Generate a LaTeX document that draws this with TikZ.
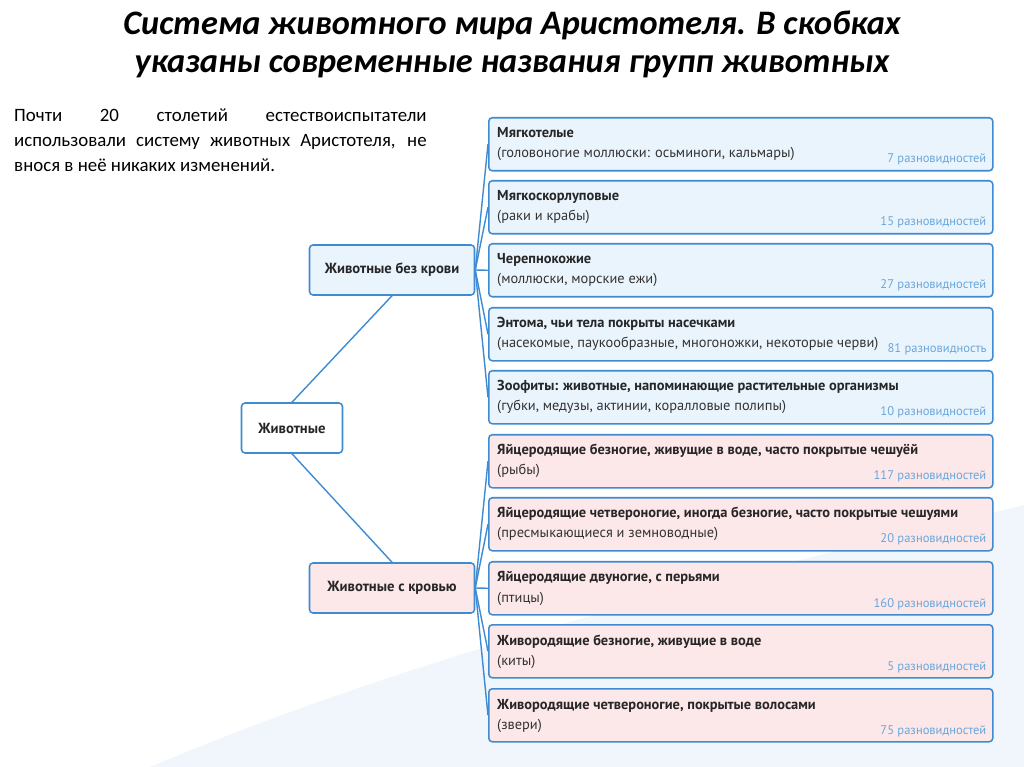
\documentclass[tikz,border=0pt]{standalone}
\usepackage{fontspec}
\setmainfont{Carlito}
\newfontfamily\bodyfont{Carlito}
\newfontfamily\boxfont{PT Sans}
\definecolor{lineblue}{HTML}{3F8BD2}
\definecolor{countblue}{HTML}{6AA6DB}
\definecolor{fillblue}{HTML}{EAF4FD}
\definecolor{fillpink}{HTML}{FCE7E9}
\definecolor{bgblue}{HTML}{F0F6FC}
\newcommand\animalrow[6]{%
  \node[#3] (#1) at (488,#2) {};
  \node[ttl] (#1t) at ([shift={(9,21)}]#1.north west) {#4};
  \node[sub] (#1s) at ([shift={(9,41)}]#1.north west) {#5};
  \node[cnt] (#1c) at ([shift={(-7,46)}]#1.north east) {#6};
}
\begin{document}
\begin{tikzpicture}[x=0.03cm,y=-0.03cm,
  basebox/.style={draw=lineblue, line width=1.3pt, rounded corners=3pt,
    minimum width=15.12cm, minimum height=1.59cm, anchor=north west, inner sep=0pt},
  bluebox/.style={basebox, fill=fillblue},
  pinkbox/.style={basebox, fill=fillpink},
  ttl/.style={anchor=base west, inner sep=0pt, font=\boxfont\bfseries\fontsize{12.3}{14}\selectfont, text=black!85},
  sub/.style={anchor=base west, inner sep=0pt, font=\boxfont\fontsize{12.3}{14}\selectfont, text=black!80},
  cnt/.style={anchor=base east, inner sep=0pt, font=\boxfont\fontsize{10.7}{12}\selectfont, text=countblue},
  midbox/.style={draw=lineblue, line width=1.3pt, rounded corners=3pt, minimum height=1.5cm,
    inner sep=0pt, font=\boxfont\bfseries\fontsize{12.5}{14}\selectfont, text=black!85},
  link/.style={draw=lineblue, line width=1.2pt}]
\useasboundingbox (0,0) rectangle (1024,767);
\fill[bgblue] (150,767) .. controls (450,640) and (800,560) .. (1024,505) -- (1024,767) -- cycle;

\node[font=\bfseries\itshape\fontsize{29.3}{32.5}\selectfont, align=center, text=black] (title) at (512,44)
  {Система животного мира Аристотеля. В скобках\\указаны современные названия групп животных};

\node[anchor=north west, text width=352pt, align=justify, inner sep=0pt,
  font=\bodyfont\fontsize{16.1}{21.3}\selectfont] (intro) at (14,109)
  {Почти 20 столетий естествоиспытатели использовали систему животных Аристотеля, не внося в неё никаких изменений.};

\animalrow{b1}{117}{bluebox}{Мягкотелые}{(головоногие моллюски: осьминоги, кальмары)}{7 разновидностей}
\animalrow{b2}{180}{bluebox}{Мягкоскорлуповые}{(раки и крабы)}{15 разновидностей}
\animalrow{b3}{243}{bluebox}{Черепнокожие}{(моллюски, морские ежи)}{27 разновидностей}
\animalrow{b4}{307}{bluebox}{Энтома, чьи тела покрыты насечками}{(насекомые, паукообразные, многоножки, некоторые черви)}{81 разновидность}
\animalrow{b5}{370}{bluebox}{Зоофиты: животные, напоминающие растительные организмы}{(губки, медузы, актинии, коралловые полипы)}{10 разновидностей}
\animalrow{b6}{434}{pinkbox}{Яйцеродящие безногие, живущие в воде, часто покрытые чешуёй}{(рыбы)}{117 разновидностей}
\animalrow{b7}{497}{pinkbox}{Яйцеродящие четвероногие, иногда безногие, часто покрытые чешуями}{(пресмыкающиеся и земноводные)}{20 разновидностей}
\animalrow{b8}{561}{pinkbox}{Яйцеродящие двуногие, с перьями}{(птицы)}{160 разновидностей}
\animalrow{b9}{624}{pinkbox}{Живородящие безногие, живущие в воде}{(киты)}{5 разновидностей}
\animalrow{b10}{688}{pinkbox}{Живородящие четвероногие, покрытые волосами}{(звери)}{75 разновидностей}

\node[midbox, fill=fillblue, minimum width=4.95cm] (nb) at (392,270) {Животные без крови};
\node[midbox, fill=white, minimum width=3.03cm] (an) at (292,428) {Животные};
\node[midbox, fill=fillpink, minimum width=4.95cm] (wb) at (392,588) {Животные с кровью};

\draw[link] (an.north) -- (nb.south);
\draw[link] (an.south) -- (wb.north);
\foreach \b in {b1,b2,b3,b4,b5} \draw[link] (nb.east) -- (\b.west);
\foreach \b in {b6,b7,b8,b9,b10} \draw[link] (wb.east) -- (\b.west);
\end{tikzpicture}
\end{document}
